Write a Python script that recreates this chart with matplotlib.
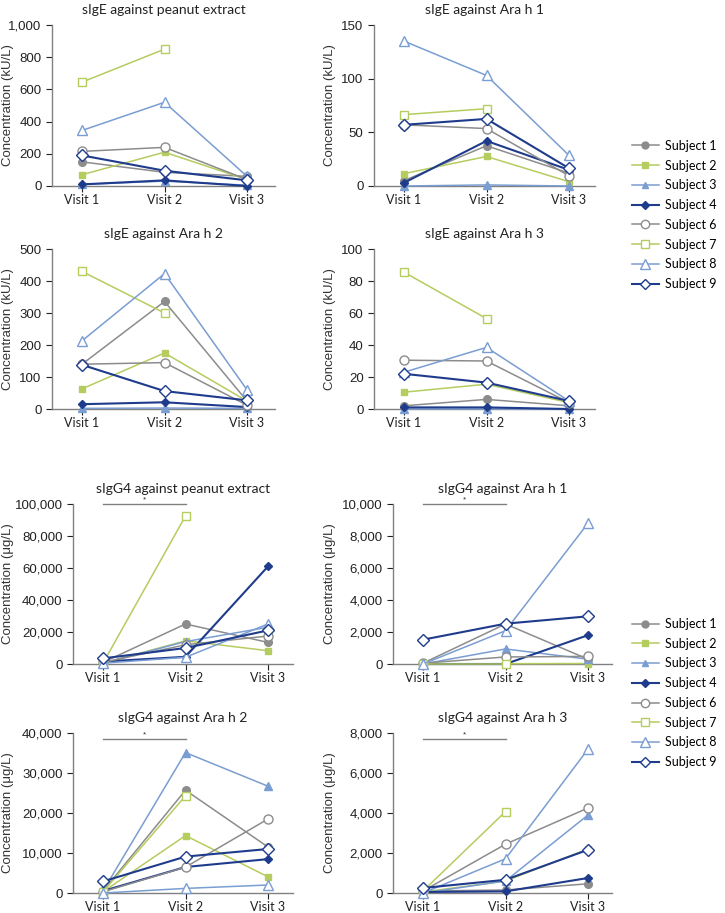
import numpy as np
import matplotlib
matplotlib.use("Agg")
from matplotlib import pyplot as plt
from matplotlib.ticker import FuncFormatter
from matplotlib.lines import Line2D

nan = np.nan
visits = ["Visit 1", "Visit 2", "Visit 3"]
subjects = ["Subject 1", "Subject 2", "Subject 3", "Subject 4",
            "Subject 6", "Subject 7", "Subject 8", "Subject 9"]

# rows = subjects (1,2,3,4,6,7,8,9), cols = visits
ige_peanut = [[150, 85, 60], [70, 210, 40], [10, 30, 5], [10, 35, 0],
              [215, 240, 40], [645, 850, nan], [345, 520, 60], [190, 95, 35]]
ige_arah1 = [[5, 37.5, 12], [11.5, 27.5, 4], [0, 1, 0], [3, 42, 15],
             [57, 53.5, 9.5], [66.5, 72, nan], [135, 103, 28.5], [57, 62.5, 16.5]]
ige_arah2 = [[140, 336, 25], [63, 175, 25], [2, 3, 2], [15, 21, 6],
             [140, 145, 12], [430, 300, nan], [213, 423, 60], [138, 56, 27]]
ige_arah3 = [[2, 6, 2], [10.5, 15.5, 4], [0, 0, 0], [1, 1, 0],
             [30.5, 30, 4], [85.5, 56.5, nan], [23, 38.5, 5], [22, 16.5, 5]]
igg4_peanut = [[1000, 25000, 13500], [500, 14500, 8300], [500, 14000, 23000],
               [1500, 4500, 61000], [1000, 12000, 17500], [500, 92500, nan],
               [500, 4200, 25000], [3500, 10000, 21000]]
igg4_arah1 = [[50, 2500, 300], [0, 20, 30], [0, 940, 300], [0, 0, 1800],
              [50, 440, 475], [0, 0, nan], [0, 2080, 8800], [1520, 2520, 2980]]
igg4_arah2 = [[500, 25700, 11500], [300, 14350, 4050], [500, 35100, 26700],
              [500, 6500, 8470], [300, 6470, 18500], [300, 24300, nan],
              [0, 1150, 2000], [2900, 9100, 11000]]
igg4_arah3 = [[100, 150, 460], [50, 600, 2200], [0, 600, 3900], [50, 80, 750],
              [100, 2440, 4250], [100, 4070, nan], [0, 1710, 7190], [250, 660, 2160]]

gray, green, blue, navy = "#8c8c8c", "#b5cc5f", "#7a9dd2", "#1f3b8c"
colors = [gray, green, blue, navy, gray, green, blue, navy]
markers = ["o", "s", "^", "D", "o", "s", "^", "D"]
filled = [True, True, True, True, False, False, False, False]
msizes = [5.5, 5, 5.5, 4.5, 6.5, 6, 7, 6]

plt.rcParams["font.family"] = ["Liberation Sans", "DejaVu Sans"]
W, H = 725, 913
fig = plt.figure(figsize=(W / 100, H / 100), dpi=100)


def add_ax(left, right, top, bottom):
    return fig.add_axes([left / W, 1 - bottom / H, (right - left) / W, (bottom - top) / H])


panels = [
    # data, title, ymax, step, unit, box (left, right, top, bottom), sig bar y
    (ige_peanut, "sIgE against peanut extract", 1000, 200, "kU/L", (52, 275, 25, 186), None),
    (ige_arah1, "sIgE against Ara h 1", 150, 50, "kU/L", (374, 595, 25, 186), None),
    (ige_arah2, "sIgE against Ara h 2", 500, 100, "kU/L", (52, 275, 249, 409), None),
    (ige_arah3, "sIgE against Ara h 3", 100, 20, "kU/L", (374, 595, 249, 409), None),
    (igg4_peanut, "sIgG4 against peanut extract", 100000, 20000, "\u03bcg/L", (73, 293, 504, 664), 100000),
    (igg4_arah1, "sIgG4 against Ara h 1", 10000, 2000, "\u03bcg/L", (393, 612, 504, 664), 10000),
    (igg4_arah2, "sIgG4 against Ara h 2", 40000, 10000, "\u03bcg/L", (73, 293, 733, 893), 38500),
    (igg4_arah3, "sIgG4 against Ara h 3", 8000, 2000, "\u03bcg/L", (393, 612, 733, 893), 7700),
]

x = np.arange(3)
for data, title, ymax, step, unit, box, sig in panels:
    ax = add_ax(*box)
    left, right = box[0], box[1]
    v1 = left + 30
    sp = 82.5
    ax.set_xlim(-(v1 - left) / sp, (right - v1) / sp)
    ax.set_ylim(0, ymax)
    for i, row in enumerate(data):
        lw = 1.5 if colors[i] == navy else 1.1
        ax.plot(x, row, color=colors[i], lw=lw, marker=markers[i], ms=msizes[i],
                markerfacecolor=colors[i] if filled[i] else "white",
                markeredgecolor=colors[i], markeredgewidth=1.0, clip_on=False,
                zorder=3)
    ax.set_xticks(x)
    ax.set_xticklabels(visits, fontsize=9, family=["Lato", "DejaVu Sans"])
    ax.set_yticks(np.arange(0, ymax + 1, step))
    ax.yaxis.set_major_formatter(FuncFormatter(lambda v, p: "{:,.0f}".format(v)))
    ax.tick_params(axis="y", labelsize=9.5, colors="#222222", length=4, width=0.8)
    ax.tick_params(axis="x", colors="#222222", length=4, width=0.8, pad=2)
    for t in ax.get_xticklines() + ax.get_yticklines():
        t.set_color("#808080")
    for s in ["top", "right"]:
        ax.spines[s].set_visible(False)
    for s in ["left", "bottom"]:
        ax.spines[s].set_color("#808080")
        ax.spines[s].set_linewidth(1.0)
    ax.set_title(title, fontsize=10, family=["Lato", "DejaVu Sans"], pad=8, color="#222222")
    ax.set_ylabel("Concentration (%s)" % unit, fontsize=9.5, color="#333333")
    lab_x = 14 if left < 300 else 336
    ax.yaxis.set_label_coords((lab_x - left) / (right - left), 0.5)
    if sig is not None:
        ax.plot([0, 1], [sig, sig], color="#808080", lw=1.0, clip_on=False)
        ax.text(0.5, sig + ymax * 0.005, "*", ha="center", va="bottom", fontsize=6,
                color="#333333", clip_on=False)

handles = [Line2D([0], [0], color=colors[i], lw=1.5 if colors[i] == navy else 1.1,
                  marker=markers[i], ms=msizes[i] - 0.5,
                  markerfacecolor=colors[i] if filled[i] else "white",
                  markeredgecolor=colors[i]) for i in range(8)]
for cy in [215, 693]:
    fig.legend(handles, subjects, loc="center left", bbox_to_anchor=(626 / W, 1 - cy / H),
               frameon=False, handlelength=2.1, handletextpad=0.5,
               labelspacing=0.62, borderpad=0, prop={"family": ["Lato", "DejaVu Sans"], "size": 9})

fig.savefig("out.png", dpi=100)
